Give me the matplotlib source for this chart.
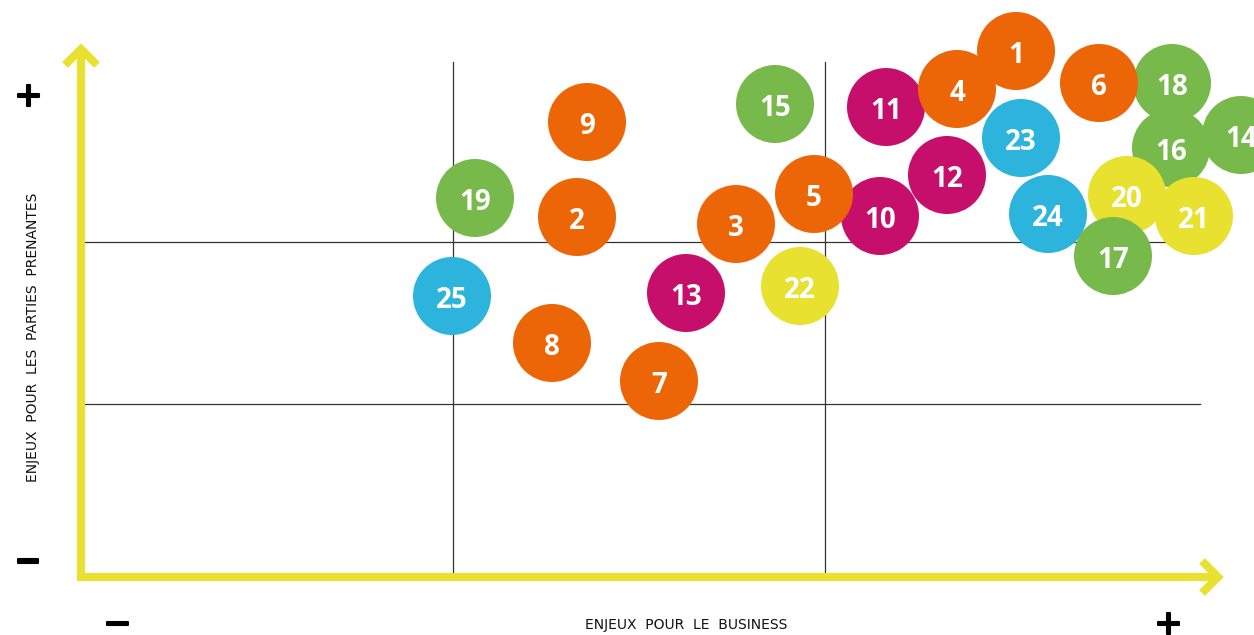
import matplotlib
matplotlib.use("Agg")
import matplotlib.pyplot as plt
from matplotlib.patches import Circle
import matplotlib.patheffects as pe

# ---- data (scores; origin at axis corner) ----
ids = [1, 2, 3, 4, 5, 6, 7, 8, 9, 10, 11, 12, 13, 14, 15, 16, 17, 18, 19, 20, 21, 22, 23, 24, 25]
business = [935, 496, 655, 876, 733, 1018, 578, 471, 506, 799, 805, 866, 605,
            1160, 694, 1090, 1032, 1091, 394, 1046, 1113, 719, 940, 967, 371]
stakeholders = [526, 360, 353, 488, 383, 494, 196, 234, 455, 361, 470, 402, 284,
                442, 473, 429, 321, 494, 379, 382, 361, 291, 439, 363, 281]
groups = ["orange"] * 9 + ["magenta"] * 4 + ["green"] * 6 + ["yellow"] * 3 + ["blue"] * 3
draw_order = [11, 4, 1, 18, 6, 10, 5, 12, 23, 24, 16, 14, 20, 21, 17,
              2, 3, 7, 8, 9, 13, 15, 19, 22, 25]
grid_x = [372, 744]
grid_y = [173, 335]
xlabel = "ENJEUX  POUR  LE  BUSINESS"
ylabel = "ENJEUX  POUR  LES  PARTIES  PRENANTES"

palette = {"orange": "#EC6608", "magenta": "#C60F6B", "green": "#77B94A",
           "yellow": "#E8E12F", "blue": "#2CB4DC"}
axis_yellow = "#E8E12F"

W, H = 1254, 635
fig = plt.figure(figsize=(W / 100, H / 100), dpi=100)
ax = fig.add_axes([0, 0, 1, 1])
ax.set_xlim(-81, W - 81)
ax.set_ylim(577 - H, 577)
ax.axis("off")

R = 39
# grid lines
for gx in grid_x:
    ax.plot([gx, gx], [0, 515], color="#333333", lw=0.9, zorder=1)
for gy in grid_y:
    ax.plot([3, 1119], [gy, gy], color="#333333", lw=0.9, zorder=1)

# axes with chevron arrows
lw_axis = 5.8
ax.plot([0, 0, 1137], [528, 0, 0], color=axis_yellow, lw=lw_axis,
        solid_joinstyle="miter", solid_capstyle="butt", zorder=2)
ax.plot([-16, 0, 16], [512, 528, 512], color=axis_yellow, lw=lw_axis,
        solid_joinstyle="miter", solid_capstyle="butt", zorder=2)
ax.plot([1121, 1137, 1121], [16, 0, -16], color=axis_yellow, lw=lw_axis,
        solid_joinstyle="miter", solid_capstyle="butt", zorder=2)

# circles
for k, num in enumerate(draw_order):
    i = ids.index(num)
    x, y = business[i], stakeholders[i]
    ax.add_patch(Circle((x, y), R, facecolor=palette[groups[i]], edgecolor="none",
                        zorder=3 + 2 * k))
    ax.text(x, y - 12, str(num), color="white", fontsize=20, fontweight="bold",
            family="Open Sans", ha="center", va="baseline", zorder=4 + 2 * k)

# +/- signs
sign_fx = [pe.withStroke(linewidth=1.5, foreground="black")]
for sx, sy, s in [(-52.5, 484, "+"), (-53, 18.5, "\u2212"), (36.5, -44, "\u2212"), (1087.5, -44, "+")]:
    ax.text(sx, sy, s, fontsize=24, fontweight="bold", family="DejaVu Sans",
            ha="center", va="center_baseline", color="black", path_effects=sign_fx)

# axis titles
ax.text(605, -48.5, xlabel, fontsize=10, fontweight="normal", family="DejaVu Sans",
        ha="center", va="center", color="#111111")
ax.text(-48, 240, ylabel, fontsize=10, fontweight="normal", family="DejaVu Sans",
        ha="center", va="center", rotation=90, color="#111111")

fig.savefig("out.png", dpi=100)
